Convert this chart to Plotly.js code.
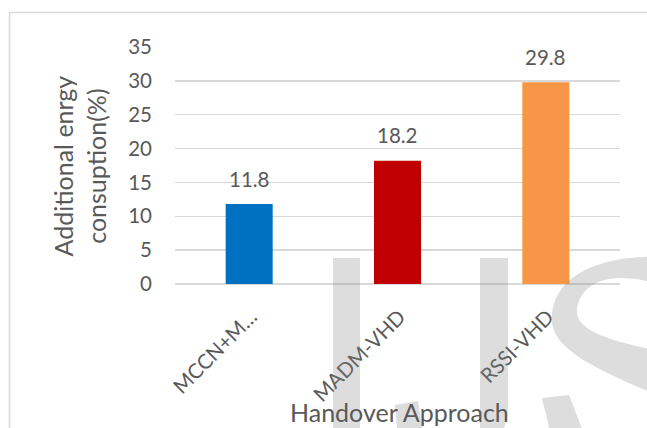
<!DOCTYPE html>
<html>
<head>
<meta charset="utf-8">
<script src="https://cdn.plot.ly/plotly-3.0.1.min.js"></script>
<style>
  html, body { margin: 0; padding: 0; background: #ffffff; }
  #chart { width: 647px; height: 428px; }
</style>
</head>
<body>
<div id="chart"></div>
<script>
// Handover approaches and their additional energy consumption (%)
const categories = ['MCCN+M…', 'MADM-VHD', 'RSSI-VHD'];
const values = [11.8, 18.2, 29.8];
const barColors = ['#0070C0', '#C00000', '#F79646'];
const yTicks = [0, 5, 10, 15, 20, 25, 30, 35];

const W = 647, H = 428;
const M = { l: 175, r: 27, t: 47, b: 144 };
const plotW = W - M.l - M.r;
const plotH = H - M.t - M.b;
// pixel -> paper coordinate helpers for the decorative layer
const px = x => ((x - M.l) / plotW).toFixed(4);
const py = y => ((H - M.b - y) / plotH).toFixed(4);
const P = (x, y) => px(x) + ',' + py(y);

const textColor = '#595959';
const fontFam = 'Lato, "Open Sans", sans-serif';
const wmFill = 'rgba(128,128,128,0.27)';
const tickSize = 20.5;
const titleSize = 25;

const trace = {
  type: 'bar',
  x: categories,
  y: values,
  marker: { color: barColors, line: { width: 0 } },
  hoverinfo: 'none'
};

// value labels above each bar
const valueLabels = categories.map((c, i) => ({
  x: c, y: values[i], xref: 'x', yref: 'y',
  text: values[i].toFixed(1),
  showarrow: false, yanchor: 'bottom', yshift: 11.5,
  font: { family: fontFam, size: tickSize, color: textColor }
}));

// watermark letters drawn as translucent shapes
const watermark = [
  { type: 'path', path: 'M' + P(333, 258) + ' L' + P(360, 258) + ' L' + P(360, 440) + ' L' + P(333, 440) + ' Z' },
  { type: 'path', path: 'M' + P(480, 258) + ' L' + P(508, 258) + ' L' + P(508, 405) +
      ' C' + P(508, 418) + ' ' + P(504, 430) + ' ' + P(499, 440) + ' L' + P(480, 440) + ' Z' },
  { type: 'path', path: 'M' + P(395, 405) + ' L' + P(418, 401) + ' L' + P(424, 440) + ' L' + P(398, 440) + ' Z' },
  { type: 'path', path: 'M' + P(670, 257) +
      ' C' + P(610, 254) + ' ' + P(552, 270) + ' ' + P(552, 320) +
      ' C' + P(552, 350) + ' ' + P(600, 372) + ' ' + P(670, 400) +
      ' L' + P(670, 353) +
      ' C' + P(630, 345) + ' ' + P(577, 335) + ' ' + P(577, 312) +
      ' C' + P(577, 292) + ' ' + P(595, 278) + ' ' + P(620, 278) +
      ' C' + P(640, 278) + ' ' + P(655, 283) + ' ' + P(670, 288) + ' Z' },
  { type: 'path', path: 'M' + P(542, 398) + ' L' + P(569, 395) +
      ' C' + P(574, 408) + ' ' + P(579, 420) + ' ' + P(586, 440) + ' L' + P(552, 440) + ' Z' }
].map(s => Object.assign(s, {
  xref: 'paper', yref: 'paper', layer: 'above',
  fillcolor: wmFill, line: { width: 0 }
}));

// outer chart frame
const frame = {
  type: 'rect', xref: 'paper', yref: 'paper', layer: 'below',
  x0: px(9.5), y0: py(445), x1: px(700), y1: py(12.5),
  line: { color: '#D9D9D9', width: 1.5 }, fillcolor: 'rgba(0,0,0,0)'
};

const layout = {
  width: W, height: H,
  margin: M,
  paper_bgcolor: '#ffffff', plot_bgcolor: '#ffffff',
  showlegend: false,
  bargap: 0.683,
  font: { family: fontFam, color: textColor },
  xaxis: {
    type: 'category',
    tickangle: -45,
    ticks: '',
    ticklabelstandoff: 16,
    ticklabelshift: 2,
    tickfont: { family: fontFam, size: tickSize, color: textColor },
    showgrid: false, showline: false, zeroline: false,
    fixedrange: true
  },
  yaxis: {
    range: [0, 35],
    tickvals: yTicks,
    ticktext: yTicks.map(String),
    ticks: '',
    ticklabelstandoff: 22,
    tickfont: { family: fontFam, size: tickSize, color: textColor },
    showgrid: true, gridcolor: '#D9D9D9', gridwidth: 1.5,
    zeroline: true, zerolinecolor: '#D9D9D9', zerolinewidth: 1.5,
    showline: false, fixedrange: true
  },
  annotations: valueLabels.concat([
    {
      xref: 'paper', yref: 'paper', x: px(80), y: 0.5,
      text: 'Additional enrgy<br>consuption(%)', textangle: -90,
      showarrow: false, xanchor: 'center', yanchor: 'middle',
      font: { family: fontFam, size: titleSize, color: textColor }
    },
    {
      xref: 'paper', yref: 'paper', x: px(400), y: py(412),
      text: 'Handover Approach',
      showarrow: false, xanchor: 'center', yanchor: 'middle',
      font: { family: fontFam, size: titleSize, color: textColor }
    }
  ]),
  shapes: [frame].concat(watermark)
};

Plotly.newPlot('chart', [trace], layout, { staticPlot: true, displayModeBar: false });
</script>
</body>
</html>
